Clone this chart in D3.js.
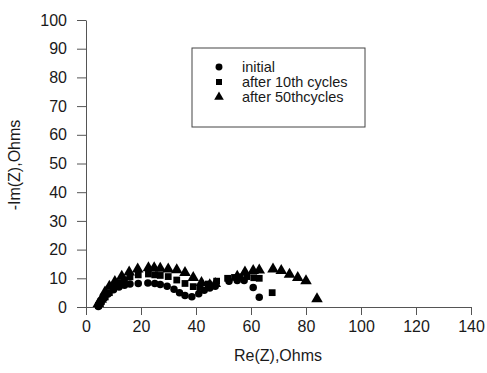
<!DOCTYPE html>
<html>
<head>
<meta charset="utf-8">
<script src="https://cdn.jsdelivr.net/npm/d3@7"></script>
<style>
  body { margin: 0; background: #fff; }
  svg { display: block; font-family: Arial, "Liberation Sans", sans-serif; }
</style>
</head>
<body>
<svg id="chart" width="487" height="373"></svg>
<script>
// Nyquist impedance data: [Re(Z), -Im(Z)] in Ohms
const initial = [
  [4.5,0.2],[5.5,1.5],[6.5,3],[8,4.5],[10,6],[12,7],[14,7.6],[16,8],[19,8.2],
  [22.5,8.4],[25,8.2],[27,7.8],[29.5,7.2],[32,6.2],[34,5],[36,4],[38.5,3.6],
  [41,4.6],[43,5.8],[45,6.6],[47,7.2],[52,9],[55,9.2],[57.5,9.2],[60.8,6.8],[63,3.4]
];
const after10 = [
  [4.5,0.5],[5.5,2],[7,3.5],[8.5,5],[10,7],[12,8.5],[14,9.5],[16,10.5],[19,11.2],
  [22.7,11.5],[25,11.2],[27,11],[29.9,10.6],[33,9.4],[36,8.2],[39,7.1],[41.5,6.8],
  [44.5,8],[47.5,9],[51.5,10],[54,10.3],[56,10.5],[58.5,10.6],[61,10.2],[63,10],[67.7,5]
];
const after50 = [
  [4.5,1.5],[5.5,3],[6.9,5.5],[8.5,7.5],[10.5,9.2],[13,11],[15.7,12.5],[18.8,13.5],
  [22.7,14],[24.8,14],[27,13.8],[29.9,13.5],[33,13.3],[36,12.3],[39,10.6],[42,8.8],
  [45,8],[47,8.5],[55,11],[57.8,12.5],[60.8,13],[63,13.2],[68,13.5],[71,13],
  [74,11.7],[77,10.6],[80,9.4],[84,3.2]
];
const seriesNames = ["initial", "after 10th cycles", "after 50thcycles"];
const xTicks = [0, 20, 40, 60, 80, 100, 120, 140];
const yTicks = [0, 10, 20, 30, 40, 50, 60, 70, 80, 90, 100];

const svg = d3.select("#chart");
const x = d3.scaleLinear().domain([0, 140]).range([86, 471]);
const y = d3.scaleLinear().domain([0, 100]).range([307, 20]);
const ink = "#1a1a1a";

const xAxis = svg.append("g").attr("transform", `translate(0,${y(0)})`)
  .call(d3.axisBottom(x).tickValues(xTicks).tickSize(8).tickPadding(6).tickSizeOuter(0));
const yAxis = svg.append("g").attr("transform", `translate(${x(0)},0)`)
  .call(d3.axisLeft(y).tickValues(yTicks).tickSize(9).tickPadding(10).tickSizeOuter(0));
[xAxis, yAxis].forEach(g => {
  g.select(".domain").attr("stroke", "#555");
  g.selectAll(".tick line").attr("stroke", "#555");
  g.selectAll(".tick text").attr("fill", ink).style("font-size", "16px")
    .style("font-family", "Arial, 'Liberation Sans', sans-serif");
});

svg.append("text").attr("x", 278).attr("y", 361).attr("text-anchor", "middle")
  .attr("fill", ink).style("font-size", "16px").text("Re(Z),Ohms");
svg.append("text").attr("transform", "translate(20,165) rotate(-90)")
  .attr("text-anchor", "middle").attr("fill", ink).style("font-size", "16px")
  .text("-Im(Z),Ohms");

// marker shapes
const circle = d3.symbol().type(d3.symbolCircle).size(44);
const square = d3.symbol().type(d3.symbolSquare).size(46);
const triangle = d3.symbol().type(d3.symbolTriangle).size(58);

const layers = [
  { data: after50, sym: triangle, dy: 1 },
  { data: after10, sym: square, dy: 0 },
  { data: initial, sym: circle, dy: 0 }
];
layers.forEach(l => {
  svg.append("g").selectAll("path").data(l.data).join("path")
    .attr("d", l.sym)
    .attr("transform", d => `translate(${x(d[0])},${y(d[1]) + l.dy})`)
    .attr("fill", "#000");
});

// legend
const lg = svg.append("g");
lg.append("rect").attr("x", 192).attr("y", 48).attr("width", 173).attr("height", 79)
  .attr("fill", "#fff").attr("stroke", "#444").attr("stroke-width", 1);
const legendSyms = [
  d3.symbol().type(d3.symbolCircle).size(38),
  d3.symbol().type(d3.symbolSquare).size(36),
  d3.symbol().type(d3.symbolTriangle).size(40)
];
seriesNames.forEach((name, i) => {
  const cy = 67 + i * 15;
  lg.append("path").attr("d", legendSyms[i]).attr("transform", `translate(219,${cy})`).attr("fill", "#000");
  lg.append("text").attr("x", 242).attr("y", cy + 5).attr("fill", ink)
    .style("font-size", "14.5px").text(name);
});
</script>
</body>
</html>
